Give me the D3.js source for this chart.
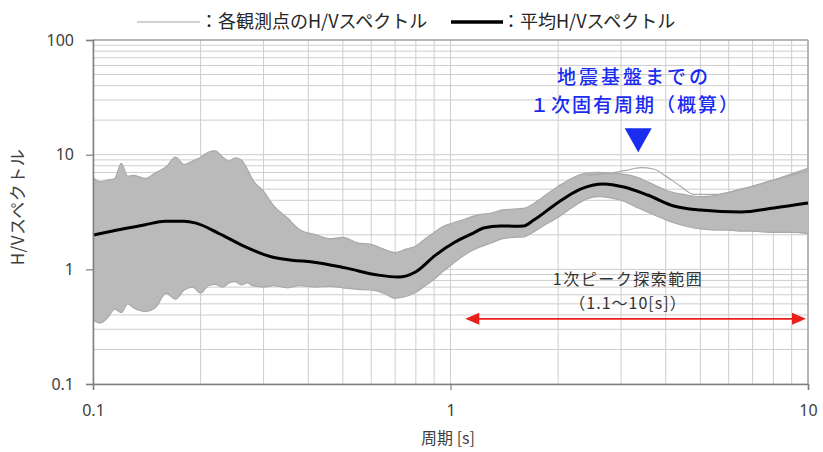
<!DOCTYPE html>
<html>
<head>
<meta charset="utf-8">
<script src="https://cdn.jsdelivr.net/npm/d3@7"></script>
<style>
  html, body { margin: 0; padding: 0; background: #ffffff; }
  svg { display: block; }
  text { font-family: "Noto Sans CJK JP", "Noto Sans", sans-serif; }
</style>
</head>
<body>
<svg id="chart" width="823" height="452"></svg>
<script>
// ---------------- data ----------------
const xTicks = [0.1, 1, 10];
const yTicks = [0.1, 1, 10, 100];

// envelope of the individual station H/V spectra (grey band)
const bandPeriod = [0.1, 0.105, 0.11, 0.115, 0.12, 0.125, 0.13, 0.14, 0.15, 0.16, 0.17, 0.18, 0.19, 0.2, 0.21, 0.22, 0.23, 0.24, 0.25, 0.26, 0.27, 0.28, 0.3, 0.32, 0.35, 0.38, 0.42, 0.46, 0.5, 0.55, 0.6, 0.65, 0.7, 0.75, 0.8, 0.85, 0.9, 0.95, 1.0, 1.1, 1.2, 1.3, 1.4, 1.5, 1.6, 1.7, 1.8, 2.0, 2.2, 2.4, 2.6, 2.8, 3.0, 3.3, 3.6, 4.0, 4.5, 5.0, 5.5, 6.0, 6.5, 7.0, 8.0, 9.0, 10];
const bandUpper = [6.3, 5.8, 6.0, 6.2, 8.4, 6.5, 6.6, 6.2, 7.0, 7.8, 9.5, 8.2, 8.8, 9.5, 10.5, 10.8, 9.6, 8.8, 9.4, 9.0, 7.5, 6.0, 4.8, 3.6, 2.8, 2.2, 2.0, 1.85, 1.9, 1.7, 1.65, 1.5, 1.4, 1.5, 1.6, 1.85, 2.1, 2.35, 2.5, 2.75, 3.0, 3.1, 3.3, 3.35, 3.4, 3.7, 4.2, 5.3, 6.3, 6.9, 7.0, 6.9, 6.8, 6.4, 5.7, 4.9, 4.5, 4.3, 4.4, 4.7, 5.0, 5.3, 6.0, 6.8, 7.6];
const bandLower = [0.36, 0.34, 0.38, 0.45, 0.42, 0.5, 0.46, 0.43, 0.47, 0.62, 0.55, 0.66, 0.7, 0.62, 0.72, 0.74, 0.7, 0.76, 0.78, 0.73, 0.76, 0.72, 0.70, 0.72, 0.69, 0.72, 0.70, 0.71, 0.69, 0.67, 0.66, 0.62, 0.56, 0.58, 0.63, 0.72, 0.82, 0.95, 1.08, 1.35, 1.55, 1.7, 1.85, 1.9, 1.92, 2.1, 2.35, 2.85, 3.5, 4.1, 4.3, 4.2, 4.0, 3.5, 3.1, 2.7, 2.4, 2.25, 2.2, 2.2, 2.15, 2.15, 2.1, 2.1, 2.05];

// an individual outlier station visible above the band near the peak
const outlierPeriod = [2.4, 2.8, 3.1, 3.4, 3.7, 4.0, 4.4, 4.8, 5.5, 6.5, 8.0, 10];
const outlierHV = [6.6, 6.9, 7.3, 7.7, 7.5, 6.5, 5.3, 4.5, 4.5, 5.0, 6.0, 7.2];

// mean H/V spectrum (black line)
const meanPeriod = [0.1, 0.117, 0.14, 0.159, 0.18, 0.193, 0.224, 0.267, 0.317, 0.36, 0.411, 0.508, 0.628, 0.715, 0.798, 0.908, 1.03, 1.15, 1.237, 1.38, 1.5, 1.6, 1.71, 1.99, 2.31, 2.68, 3.05, 3.56, 4.21, 5.01, 6.49, 8.03, 10];
const meanHV = [1.99, 2.2, 2.45, 2.62, 2.62, 2.54, 2.07, 1.57, 1.28, 1.2, 1.16, 1.03, 0.89, 0.857, 0.948, 1.33, 1.73, 2.05, 2.29, 2.39, 2.38, 2.39, 2.69, 3.79, 5.01, 5.54, 5.22, 4.45, 3.57, 3.29, 3.16, 3.43, 3.79];

// annotations
const searchRange = [1.1, 10];
const searchLevel = 0.37;
const searchLabel = ["1次ピーク探索範囲", "（1.1～10[s]）"];
const peakPeriod = 3.35;
const peakMarkerHV = 10.5;
const peakLabel = ["地震基盤までの", "１次固有周期（概算）"];
const legendLabels = ["：各観測点のH/Vスペクトル", "：平均H/Vスペクトル"];
const xTitle = "周期 [s]";
const yTitle = "H/Vスペクトル";

// ---------------- drawing ----------------
const svg = d3.select("#chart");
const L = 93, R = 808, T = 40, B = 384;
const x = d3.scaleLog().domain([0.1, 10]).range([L, R]);
const y = d3.scaleLog().domain([0.1, 100]).range([B, T]);

// grid values (1..9 in each decade)
const gridX = [], gridY = [];
[0.1, 1].forEach(d => { for (let k = 1; k <= 9; k++) gridX.push(+(d * k).toPrecision(3)); });
gridX.push(10);
[0.1, 1, 10].forEach(d => { for (let k = 1; k <= 9; k++) gridY.push(+(d * k).toPrecision(3)); });
gridY.push(100);

const grid = svg.append("g");
grid.selectAll("line.gx").data(gridX).join("line")
  .attr("x1", d => x(d)).attr("x2", d => x(d)).attr("y1", T).attr("y2", B)
  .attr("stroke", "#cdcdcd").attr("stroke-width", 1);
grid.selectAll("line.gy").data(gridY).join("line")
  .attr("x1", L).attr("x2", R).attr("y1", d => y(d)).attr("y2", d => y(d))
  .attr("stroke", "#cdcdcd").attr("stroke-width", 1);

// border (top/right)
svg.append("line").attr("x1", L).attr("x2", R).attr("y1", T).attr("y2", T).attr("stroke", "#a6a6a6").attr("stroke-width", 1.5);
svg.append("line").attr("x1", R).attr("x2", R).attr("y1", T).attr("y2", B).attr("stroke", "#a6a6a6").attr("stroke-width", 1.5);

// grey band
const bandData = bandPeriod.map((p, i) => ({ p, u: bandUpper[i], l: bandLower[i] }));
const area = d3.area().x(d => x(d.p)).y0(d => y(d.l)).y1(d => y(d.u)).curve(d3.curveMonotoneX);
svg.append("path").datum(bandData).attr("d", area).attr("fill", "#bababa");
const upLine = d3.line().x(d => x(d.p)).y(d => y(d.u)).curve(d3.curveMonotoneX);
const loLine = d3.line().x(d => x(d.p)).y(d => y(d.l)).curve(d3.curveMonotoneX);
svg.append("path").datum(bandData).attr("d", upLine).attr("fill", "none").attr("stroke", "#a9a9a9").attr("stroke-width", 1.2);
svg.append("path").datum(bandData).attr("d", loLine).attr("fill", "none").attr("stroke", "#a9a9a9").attr("stroke-width", 1.2);

// outlier station line
const stLine = d3.line().x(d => x(d[0])).y(d => y(d[1])).curve(d3.curveMonotoneX);
svg.append("path").datum(outlierPeriod.map((p, i) => [p, outlierHV[i]]))
  .attr("d", stLine).attr("fill", "none").attr("stroke", "#aaaaaa").attr("stroke-width", 1.2);

// mean line
svg.append("path").datum(meanPeriod.map((p, i) => [p, meanHV[i]]))
  .attr("d", stLine).attr("fill", "none").attr("stroke", "#000000").attr("stroke-width", 3);

// axes
const yAxis = svg.append("g").attr("transform", `translate(${L},0)`)
  .call(d3.axisLeft(y).tickValues(yTicks).tickFormat(d3.format("~g")).tickSize(7).tickPadding(12));
const xAxis = svg.append("g").attr("transform", `translate(0,${B})`)
  .call(d3.axisBottom(x).tickValues(xTicks).tickFormat(d3.format("~g")).tickSize(6).tickPadding(15));
[yAxis, xAxis].forEach(a => {
  a.select(".domain").attr("stroke", "#7f7f7f").attr("stroke-width", 1.5);
  a.selectAll(".tick line").attr("stroke", "#7f7f7f").attr("stroke-width", 1.2);
  a.selectAll(".tick text").attr("fill", "#404040").style("font-size", "16px")
    .style("font-family", "'Noto Sans', 'Open Sans', sans-serif");
});

// axis titles
svg.append("text").attr("x", 448).attr("y", 444).attr("text-anchor", "middle")
  .attr("fill", "#404040").style("font-size", "16px").text(xTitle);
svg.append("text").attr("transform", "translate(24,207) rotate(-90)").attr("text-anchor", "middle")
  .attr("fill", "#404040").style("font-size", "17px").style("letter-spacing", "0.5px").text(yTitle);

// legend
svg.append("line").attr("x1", 137).attr("x2", 200).attr("y1", 22).attr("y2", 22).attr("stroke", "#a8a8a8").attr("stroke-width", 1.2);
svg.append("text").attr("x", 200).attr("y", 28).attr("fill", "#262626").style("font-size", "18px").text(legendLabels[0]);
svg.append("line").attr("x1", 451).attr("x2", 503).attr("y1", 22).attr("y2", 22).attr("stroke", "#000").attr("stroke-width", 3.5);
svg.append("text").attr("x", 502).attr("y", 28).attr("fill", "#262626").style("font-size", "18px").text(legendLabels[1]);

// search range arrow
const ay = y(searchLevel);
const x0 = x(searchRange[0]), x1 = x(searchRange[1]);
const red = "#e8201c";
svg.append("line").attr("x1", x0 + 8).attr("x2", x1 - 8).attr("y1", ay).attr("y2", ay).attr("stroke", red).attr("stroke-width", 1.6);
svg.append("path").attr("d", `M${x0},${ay} L${x0 + 14},${ay - 6} L${x0 + 14},${ay + 6} Z`).attr("fill", red);
svg.append("path").attr("d", `M${x1 - 2},${ay} L${x1 - 16},${ay - 6} L${x1 - 16},${ay + 6} Z`).attr("fill", red);
svg.append("text").attr("x", 628).attr("y", 285).attr("text-anchor", "middle").attr("fill", "#333333")
  .style("font-size", "16px").style("letter-spacing", "1.5px").text(searchLabel[0]);
svg.append("text").attr("x", 628).attr("y", 309).attr("text-anchor", "middle").attr("fill", "#333333")
  .style("font-size", "16px").style("letter-spacing", "1px").text(searchLabel[1]);

// peak marker
const blue = "#1a2cf0";
const px = x(peakPeriod), py = y(peakMarkerHV);
svg.append("path").attr("d", `M${px},${py} L${px - 13.5},${py - 24} L${px + 13.5},${py - 24} Z`).attr("fill", blue);
svg.append("text").attr("x", 634).attr("y", 84).attr("text-anchor", "middle").attr("fill", blue)
  .style("font-size", "19px").style("font-weight", "500").style("letter-spacing", "3px").text(peakLabel[0]);
svg.append("text").attr("x", 635).attr("y", 112).attr("text-anchor", "middle").attr("fill", blue)
  .style("font-size", "19px").style("font-weight", "500").style("letter-spacing", "2px").text(peakLabel[1]);
</script>
</body>
</html>
